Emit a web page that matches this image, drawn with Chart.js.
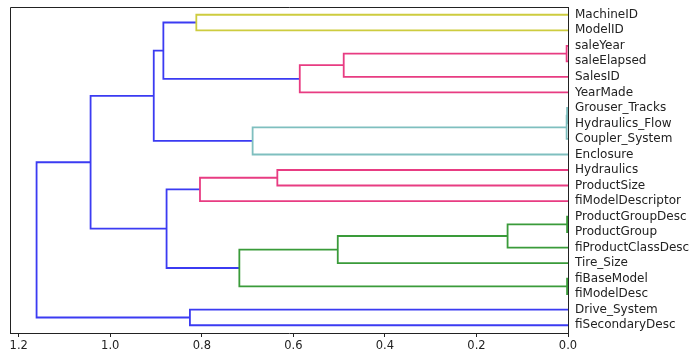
<!DOCTYPE html>
<html>
<head>
<meta charset="utf-8">
<script src="https://cdn.jsdelivr.net/npm/chart.js@4.4.1/dist/chart.umd.min.js"></script>
<style>
html,body{margin:0;padding:0;background:#fff;}
#wrap{width:697px;height:360px;}
</style>
</head>
<body>
<div id="wrap"><canvas id="c" width="697" height="360"></canvas></div>
<script>
// Leaves, top to bottom
const leafLabels = ["MachineID","ModelID","saleYear","saleElapsed","SalesID","YearMade",
  "Grouser_Tracks","Hydraulics_Flow","Coupler_System","Enclosure","Hydraulics","ProductSize",
  "fiModelDescriptor","ProductGroupDesc","ProductGroup","fiProductClassDesc","Tire_Size",
  "fiBaseModel","fiModelDesc","Drive_System","fiSecondaryDesc"];
// Merges (node ids: leaves 0..20, merges 21..)
const mergeA    = [0, 2, 22, 23, 21, 6, 26, 27, 25, 10, 30, 13, 32, 33, 17, 34, 31, 29, 19, 38];
const mergeB    = [1, 3, 4,  5,  24, 7, 8,  9,  28, 11, 12, 14, 15, 16, 18, 35, 36, 37, 20, 39];
const mergeDist = [0.812, 0.003, 0.490, 0.586, 0.884, 0.002, 0.003, 0.689, 0.905, 0.635, 0.804,
  0.002, 0.132, 0.503, 0.002, 0.718, 0.877, 1.043, 0.826, 1.161];
const mergeColor = ["y","m","m","m","b","c","c","c","b","m","m","g","g","g","g","g","b","b","b","b"];
const xTicks = [0, 0.2, 0.4, 0.6, 0.8, 1.0, 1.2];

const palette = {b:"#3b3bf2", y:"#cdcc3f", m:"#e83c82", c:"#7fbfbf", g:"#3a9b3a"};

const nLeaves = leafLabels.length;
const nodeY = leafLabels.map((_, i) => 5 + 10 * i);
const nodeD = leafLabels.map(() => 0);
const datasets = [];
for (let k = 0; k < mergeA.length; k++) {
  const a = mergeA[k], b = mergeB[k], d = mergeDist[k];
  datasets.push({
    data: [{x: nodeD[a], y: nodeY[a]}, {x: d, y: nodeY[a]}, {x: d, y: nodeY[b]}, {x: nodeD[b], y: nodeY[b]}],
    borderColor: palette[mergeColor[k]],
    borderWidth: 1.8,
    showLine: true,
    pointRadius: 0,
    fill: false,
    tension: 0,
    borderCapStyle: 'butt',
    borderJoinStyle: 'miter'
  });
  nodeY.push((nodeY[a] + nodeY[b]) / 2);
  nodeD.push(d);
}
const maxD = Math.max(...mergeDist) * 1.05;

const spineColor = "#222222";
const boxPlugin = {
  id: 'box',
  afterDraw(chart) {
    const {ctx, chartArea: ca} = chart;
    ctx.save();
    ctx.strokeStyle = spineColor;
    ctx.lineWidth = 1;
    ctx.beginPath();
    ctx.moveTo(Math.round(ca.left) + 0.5, Math.round(ca.bottom));
    ctx.lineTo(Math.round(ca.left) + 0.5, Math.round(ca.top) + 0.5);
    ctx.lineTo(Math.round(ca.right), Math.round(ca.top) + 0.5);
    ctx.stroke();
    ctx.restore();
  }
};

new Chart(document.getElementById('c'), {
  type: 'scatter',
  data: {datasets},
  plugins: [boxPlugin],
  options: {
    responsive: false,
    animation: false,
    devicePixelRatio: 1,
    layout: {padding: {left: 10, top: 7, right: 0, bottom: 0}},
    plugins: {legend: {display: false}, tooltip: {enabled: false}},
    scales: {
      x: {
        type: 'linear', position: 'bottom', reverse: true, min: 0, max: maxD,
        afterBuildTicks: s => { s.ticks = xTicks.map(v => ({value: v})); },
        afterFit: s => { s.height = 27; s.paddingLeft = 0; s.paddingRight = 0; },
        ticks: {
          callback: v => Number(v).toFixed(1),
          color: spineColor, padding: 2, autoSkip: false, maxRotation: 0,
          font: {family: 'DejaVu Sans', size: 11.5}
        },
        grid: {display: true, drawOnChartArea: false, drawTicks: true, tickLength: 4, color: spineColor, tickColor: spineColor, tickWidth: 1},
        border: {display: true, color: spineColor, width: 1}
      },
      y: {
        type: 'linear', position: 'right', reverse: true, min: 0, max: nLeaves * 10,
        afterBuildTicks: s => { s.ticks = leafLabels.map((_, i) => ({value: 5 + 10 * i})); },
        afterFit: s => { s.width = 129; s.paddingTop = 0; s.paddingBottom = 0; },
        ticks: {
          callback: v => leafLabels[Math.round((v - 5) / 10)],
          color: spineColor, padding: 7, autoSkip: false,
          font: {family: 'DejaVu Sans', size: 12}
        },
        grid: {display: false, drawTicks: false},
        border: {display: true, color: spineColor, width: 1}
      }
    }
  }
});
</script>
</body>
</html>
